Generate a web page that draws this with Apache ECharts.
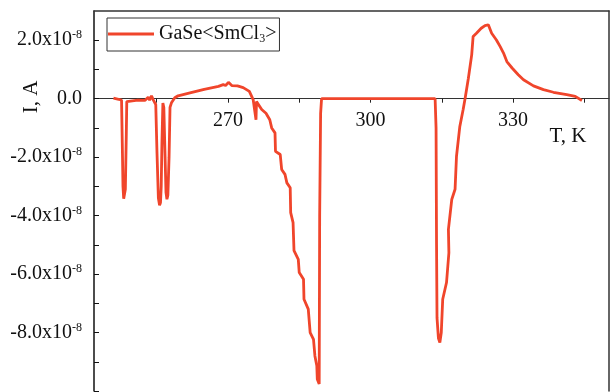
<!DOCTYPE html>
<html>
<head>
<meta charset="utf-8">
<script src="https://cdn.jsdelivr.net/npm/echarts@6/dist/echarts.min.js"></script>
<style>
  html, body { margin: 0; padding: 0; background: #fff; }
  #chart { width: 611px; height: 392px; }
</style>
</head>
<body>
<div id="chart"></div>
<script>
// temperature, K
var temps = [
  245.9, 247.0, 247.6, 247.75, 247.9, 248.05, 248.2, 248.4, 248.6, 248.7, 249.5,
  251.0, 252.5, 253.2, 253.5, 253.9, 254.3, 254.8, 255.05, 255.35, 255.6, 255.8,
  255.95, 256.1, 256.3, 256.5, 256.7, 256.95, 257.15, 257.35, 257.6, 257.8, 258.1,
  258.8, 259.5, 262.0, 265.0, 268.0, 269.0, 269.5, 270.1, 270.8, 272.0,
  273.2, 274.5, 275.3, 275.9, 276.0, 276.4, 277.1, 278.0, 278.8, 279.2,
  279.9, 280.0, 281.0, 281.3, 282.0, 282.4, 283.1, 283.2, 283.7, 283.9,
  284.8, 285.0, 285.9, 286.0, 286.9, 287.3, 288.0, 288.3, 288.7, 288.8,
  289.2, 289.3, 289.5, 289.7, 300.0, 313.6, 313.8, 313.9, 314.0, 314.3,
  314.6, 314.9, 315.2, 316.0, 316.5, 316.4, 317.1, 317.8, 318.1, 318.8,
  319.5, 319.9, 320.6, 321.3, 321.6, 322.3, 323.3, 324.1, 324.8, 325.2,
  325.5, 326.5, 327.3, 328.0, 328.7, 329.8, 331.1, 332.2, 334.3, 336.4,
  338.5, 341.3, 343.1, 344.5
]
// current, in units of 1e-8 A
var currents = [
  0.02, -0.02, -0.05, -1.5, -3.0, -3.42, -3.44, -3.1, -1.2, -0.1, -0.08,
  -0.05, -0.06, 0.05, -0.05, 0.1, -0.05, -0.2, -1.8, -3.4, -3.65, -3.55,
  -3.0, -1.5, -0.15, -0.3, -1.6, -3.2, -3.44, -3.3, -2.0, -0.3, -0.14,
  0.03, 0.1, 0.2, 0.32, 0.42, 0.48, 0.45, 0.56, 0.45, 0.44,
  0.38, 0.25, -0.03, -0.72, -0.1, -0.15, -0.37, -0.5, -0.72, -1.0,
  -1.17, -1.8, -1.91, -2.42, -2.59, -2.88, -3.05, -3.9, -4.24, -5.2,
  -5.5, -5.95, -6.18, -6.86, -7.2, -8.0, -8.23, -8.8, -9.14, -9.6,
  -9.76, -4.0, -0.5, 0, 0, 0, -1.0, -5.0, -7.5, -8.2,
  -8.34, -8.0, -6.86, -6.29, -5.27, -4.47, -3.45, -3.1, -1.97, -0.95,
  -0.37, 0.0, 0.7, 1.5, 2.13, 2.24, 2.41, 2.5, 2.53, 2.47,
  2.24, 2.01, 1.78, 1.56, 1.27, 1.05, 0.82, 0.65, 0.44, 0.31,
  0.22, 0.14, 0.08, -0.06
]
var xLabels = [270, 300, 330]
var xTicks = [255, 270, 285, 300, 315, 330, 345]
var yLabels = [-8, -6, -4, -2, 0, 2]
var yTicks = [-10, -9, -8, -7, -6, -5, -4, -3, -2, -1, 0, 1, 2]

var serif = '"Liberation Serif", "DejaVu Serif", serif'
var lineColor = '#f0452b'

// grid is 380px tall for -10..3, so zero sits 292.3px above the bottom edge
var zeroOffset = -380 * 10 / 13

var chart = echarts.init(document.getElementById('chart'))
chart.setOption({
  animation: false,
  grid: { left: 94, right: 2, top: 11, bottom: 1, containLabel: false, outerBoundsMode: 'none' },
  legend: {
    left: 107,
    top: 18,
    padding: [6, 3, 6, 1],
    borderColor: '#333',
    borderWidth: 1,
    backgroundColor: '#fff',
    icon: 'rect',
    itemWidth: 46,
    itemHeight: 3,
    itemGap: 5,
    data: ['GaSe<SmCl3>'],
    formatter: function () {
      return '{a|GaSe<SmCl}{sub|3}{a|>}'
    },
    textStyle: {
      rich: {
        a: { fontFamily: serif, fontSize: 20, color: '#111', lineHeight: 22 },
        sub: { fontFamily: serif, fontSize: 12, color: '#111', lineHeight: 12, verticalAlign: 'bottom' }
      }
    }
  },
  xAxis: [{
    type: 'value',
    position: 'bottom',
    offset: zeroOffset,
    min: 241.8,
    max: 350.2,
    axisLine: { onZero: false, lineStyle: { color: '#333', width: 1 } },
    axisTick: { customValues: xTicks, length: 4, lineStyle: { color: '#222' } },
    axisLabel: {
      customValues: xLabels,
      margin: 12,
      fontFamily: serif,
      fontSize: 20,
      color: '#111'
    },
    splitLine: { show: false }
  }, {
    type: 'value',
    position: 'top',
    min: 241.8,
    max: 350.2,
    axisLine: { show: true, onZero: false, lineStyle: { color: '#333', width: 1.5 } },
    axisTick: { show: false },
    axisLabel: { show: false },
    splitLine: { show: false }
  }],
  yAxis: [{
    type: 'value',
    min: -10,
    max: 3,
    axisLine: { show: true, onZero: false, lineStyle: { color: '#111', width: 1.5 } },
    axisTick: { inside: true, customValues: yTicks, length: 5, lineStyle: { color: '#111' } },
    axisLabel: {
      customValues: yLabels,
      margin: 12,
      formatter: function (v) {
        if (v === 0) return '{b|0.0}'
        return '{b|' + v.toFixed(1) + 'x10}{s|-8}'
      },
      rich: {
        b: { fontFamily: serif, fontSize: 20, color: '#111', lineHeight: 22 },
        s: { fontFamily: serif, fontSize: 12, color: '#111', lineHeight: 12, verticalAlign: 'top' }
      }
    },
    splitLine: { show: false }
  }, {
    type: 'value',
    position: 'right',
    min: -10,
    max: 3,
    axisLine: { show: true, onZero: false, lineStyle: { color: '#333', width: 1.5 } },
    axisTick: { show: false },
    axisLabel: { show: false },
    splitLine: { show: false }
  }],
  graphic: [{
    type: 'text',
    x: 31,
    y: 97,
    rotation: Math.PI / 2,
    style: {
      text: 'I, A',
      font: '21px ' + serif,
      fill: '#111',
      align: 'center',
      verticalAlign: 'middle'
    }
  }, {
    type: 'text',
    x: 568,
    y: 136,
    style: {
      text: 'T, K',
      font: '21px ' + serif,
      fill: '#111',
      align: 'center',
      verticalAlign: 'middle'
    }
  }],
  series: [{
    name: 'GaSe<SmCl3>',
    type: 'line',
    symbol: 'none',
    data: temps.map(function (t, i) { return [t, currents[i]] }),
    lineStyle: { color: lineColor, width: 2.8 },
    itemStyle: { color: lineColor }
  }]
})
</script>
</body>
</html>
